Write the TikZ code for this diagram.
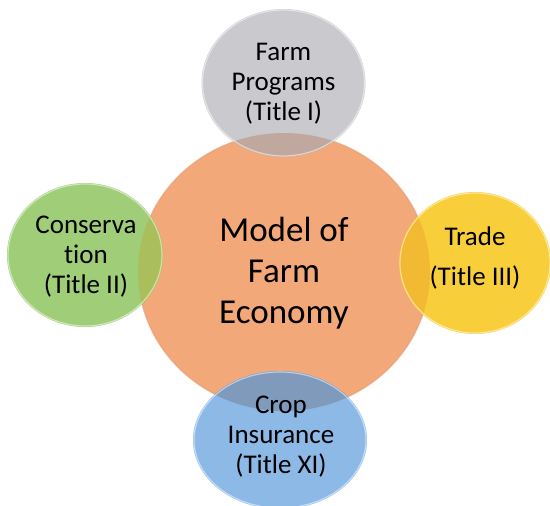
\documentclass[tikz,border=0pt]{standalone}
\usepackage{fontspec}
\setmainfont{Carlito}[Ligatures={NoCommon}]
\begin{document}
\begin{tikzpicture}[x=1pt,y=-1pt]
\definecolor{corange}{RGB}{242,168,120}
\definecolor{cgray}{RGB}{202,201,206}
\definecolor{cgreen}{RGB}{160,205,120}
\definecolor{cyellow}{RGB}{248,206,58}
\definecolor{cblue}{RGB}{140,185,230}
\definecolor{ogray}{RGB}{192,168,158}
\definecolor{ogreen}{RGB}{170,190,92}
\definecolor{oyellow}{RGB}{242,186,50}
\definecolor{oblue}{RGB}{128,154,188}
\tikzset{
  smalltext/.style={align=center,anchor=base,font=\fontsize{27}{30}\selectfont},
  bigtext/.style={align=center,anchor=base,font=\fontsize{35}{41}\selectfont},
  rim/.style={draw=#1,line width=1.2pt}
}
\useasboundingbox (0,0) rectangle (550,506);
\fill[white] (0,0) rectangle (550,506);
% central circle
\fill[corange] (284,272) ellipse [x radius=146,y radius=139];
\draw[rim=corange!85!black,opacity=0.25] (284,272) ellipse [x radius=146,y radius=139];
% satellites
\fill[cgray] (283.5,83) ellipse [x radius=82,y radius=74];
\fill[cgreen] (85,255) ellipse [x radius=78,y radius=72];
\fill[cyellow] (475,263) ellipse [x radius=76,y radius=71];
\fill[cblue] (280,440) ellipse [x radius=87,y radius=69];
% overlaps
\begin{scope}
\clip (284,272) ellipse [x radius=146,y radius=139];
\fill[ogray] (283.5,83) ellipse [x radius=82,y radius=74];
\fill[ogreen] (85,255) ellipse [x radius=78,y radius=72];
\fill[oyellow] (475,263) ellipse [x radius=76,y radius=71];
\fill[oblue] (280,440) ellipse [x radius=87,y radius=69];
\end{scope}
% rims
\draw[rim=white,opacity=0.5] (283.5,83) ellipse [x radius=81,y radius=73];
\draw[rim=white,opacity=0.5] (85,255) ellipse [x radius=77,y radius=71];
\draw[rim=white,opacity=0.5] (475,263) ellipse [x radius=75,y radius=70];
\draw[rim=white,opacity=0.5] (280,440) ellipse [x radius=86,y radius=68];
% texts (anchor base = baseline of last line)
\node[bigtext] (center) at (284,323) {Model of\\Farm\\Economy};
\node[smalltext] (farm) at (283.5,120) {Farm\\Programs\\(Title I)};
\node[smalltext] (cons) at (86,293) {Conserva\\tion\\(Title II)};
\node[smalltext] (trade) at (475,285) {Trade\\[10pt](Title III)};
\node[smalltext] (crop) at (281,473) {Crop\\Insurance\\(Title XI)};
\end{tikzpicture}
\end{document}
